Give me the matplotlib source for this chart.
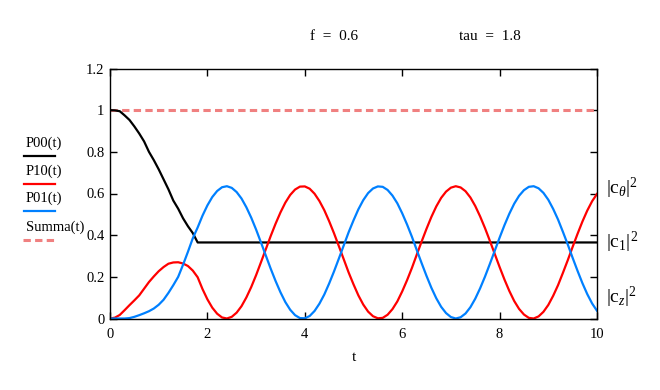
import numpy as np
import matplotlib
matplotlib.use('Agg')
import matplotlib.pyplot as plt

plt.rcParams['font.family'] = ['Liberation Serif', 'DejaVu Serif']
plt.rcParams['mathtext.fontset'] = 'custom'
plt.rcParams['mathtext.rm'] = 'Liberation Serif'
plt.rcParams['mathtext.it'] = 'Liberation Serif:italic'

# values, t step 0.1
t = np.round(np.arange(0, 10.01, 0.1), 1)
p00 = [1.0, 0.999, 0.995, 0.975, 0.953, 0.922, 0.888, 0.85, 0.80, 0.76,
       0.716, 0.668, 0.62, 0.566, 0.527, 0.481, 0.443, 0.41, 0.365] + [0.365] * 82
p10 = [0.0, 0.004, 0.017, 0.04, 0.064, 0.087, 0.111, 0.143, 0.175, 0.202,
       0.227, 0.247, 0.263, 0.269, 0.27, 0.264, 0.252, 0.23, 0.198, 0.141,
       0.092, 0.052, 0.023, 0.005, 0.0, 0.008, 0.028, 0.059, 0.101, 0.151,
       0.208, 0.270, 0.333, 0.396, 0.455, 0.509, 0.556, 0.593, 0.619, 0.633,
       0.634, 0.623, 0.599, 0.564, 0.520, 0.467, 0.409, 0.347, 0.284, 0.221,
       0.164, 0.111, 0.067, 0.033, 0.011, 0.001, 0.003, 0.018, 0.045, 0.082,
       0.130, 0.184, 0.243, 0.307, 0.370, 0.431, 0.488, 0.538, 0.579, 0.609,
       0.628, 0.635, 0.629, 0.611, 0.581, 0.540, 0.490, 0.434, 0.373, 0.310,
       0.247, 0.187, 0.132, 0.084, 0.046, 0.019, 0.003, 0.000, 0.010, 0.032,
       0.065, 0.109, 0.160, 0.219, 0.280, 0.344, 0.406, 0.465, 0.518, 0.563,
       0.598]
p01 = [0.0, 0.0, 0.0, 0.0, 0.002, 0.008, 0.016, 0.025, 0.035, 0.048,
       0.066, 0.09, 0.123, 0.16, 0.2, 0.258, 0.32, 0.385, 0.437, 0.494,
       0.543, 0.583, 0.612, 0.630, 0.635, 0.627, 0.607, 0.576, 0.534, 0.484,
       0.427, 0.365, 0.302, 0.239, 0.180, 0.126, 0.079, 0.042, 0.016, 0.002,
       0.001, 0.012, 0.036, 0.071, 0.115, 0.168, 0.226, 0.288, 0.351, 0.414,
       0.471, 0.524, 0.568, 0.602, 0.624, 0.634, 0.632, 0.617, 0.590, 0.553,
       0.505, 0.451, 0.392, 0.328, 0.265, 0.204, 0.147, 0.097, 0.056, 0.026,
       0.007, 0.000, 0.006, 0.024, 0.054, 0.095, 0.145, 0.201, 0.262, 0.325,
       0.388, 0.448, 0.503, 0.551, 0.589, 0.616, 0.632, 0.635, 0.625, 0.603,
       0.570, 0.526, 0.475, 0.416, 0.355, 0.291, 0.229, 0.170, 0.117, 0.072,
       0.037]
summa = [1.0] * len(t)

names = ['P00(t)', 'P10(t)', 'P01(t)', 'Summa(t)']
colors = ['black', '#ff0000', '#0080ff', '#f08080']
right_labels = [r'$|\mathrm{c}_{\theta}|^{2}$', r'$|\mathrm{c}_{1}|^{2}$', r'$|\mathrm{c}_{z}|^{2}$']

fig = plt.figure(figsize=(6.6, 3.9), dpi=100)
ax = fig.add_axes([110/660, 1-318.5/390, 487/660, 250/390])

ax.plot(t, summa, color=colors[3], lw=2.2, dashes=(2.4, 1.4))
ax.plot(t, p00, color=colors[0], lw=1.6)
ax.plot(t, p10, color=colors[1], lw=1.6)
ax.plot(t, p01, color=colors[2], lw=1.6)

ax.set_xlim(0, 10)
ax.set_ylim(0, 1.2)
ax.set_xticks([0, 2, 4, 6, 8, 10])
ax.set_yticks([0, 0.2, 0.4, 0.6, 0.8, 1, 1.2])
ax.set_yticklabels(['0', '0.2', '0.4', '0.6', '0.8', '1', '1.2'])
ax.tick_params(direction='in', top=True, right=True, length=5, width=1,
               labelsize=10.5, colors='black')
ax.tick_params(axis='x', pad=7)
ax.tick_params(axis='y', pad=4)
for s in ax.spines.values():
    s.set_linewidth(1)
ax.set_xlabel('t', fontsize=11, labelpad=7)

fig.text(334/660, 1-37/390, 'f  =  0.6', ha='center', va='center', fontsize=11)
fig.text(490/660, 1-37/390, 'tau  =  1.8', ha='center', va='center', fontsize=11)

# legend on the left
ys = [143, 171, 198, 227]
for i in range(4):
    fig.text(26/660, 1-ys[i]/390, names[i], ha='left', va='center', fontsize=10.5)
    ly = 1 - (ys[i] + 13)/390
    if i == 3:
        fig.add_artist(plt.Line2D([23/660, 55/660], [ly, ly], color=colors[i], lw=2.2,
                                  dashes=(2.4, 1.4)))
    else:
        fig.add_artist(plt.Line2D([24/660, 55/660], [ly, ly], color=colors[i], lw=1.6))

# labels on the right
for y, lab in zip([188, 242, 297], right_labels):
    fig.text(606/660, 1-y/390, lab, ha='left', va='center', fontsize=14)

fig.savefig('out.png', dpi=100)
